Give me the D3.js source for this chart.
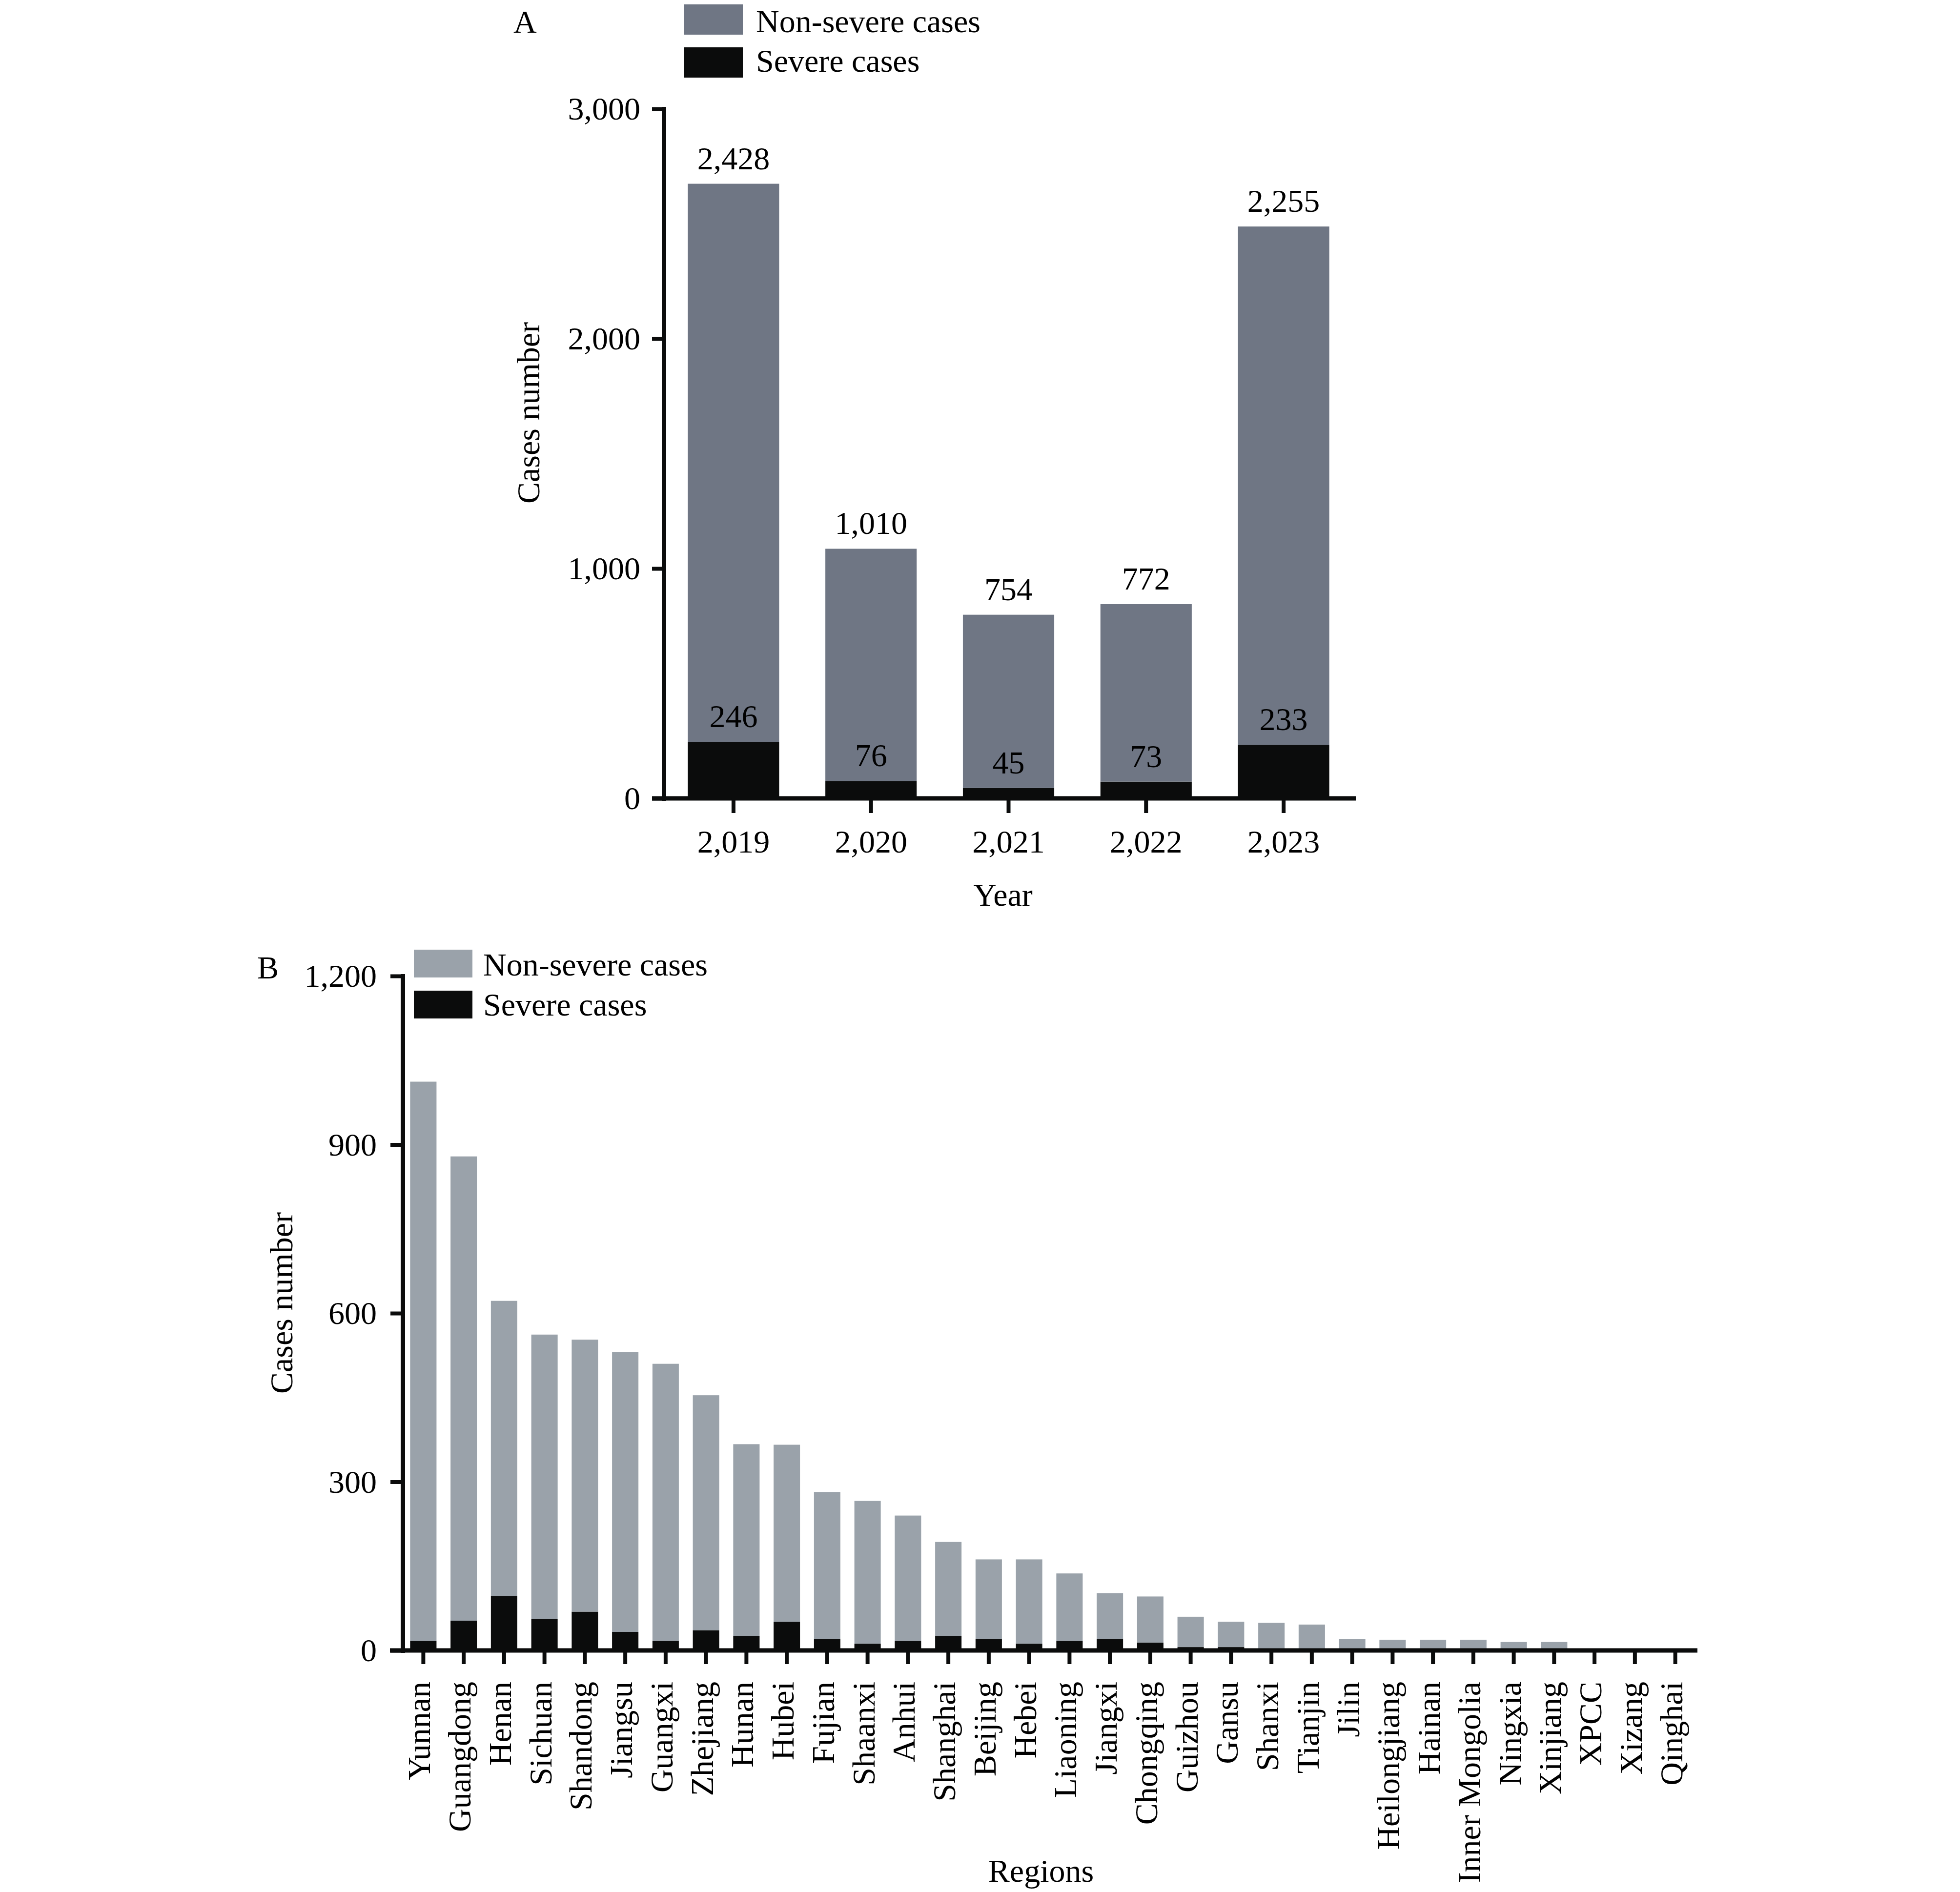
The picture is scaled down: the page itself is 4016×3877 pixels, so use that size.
<!DOCTYPE html>
<html>
<head>
<meta charset="utf-8">
<script src="https://cdn.jsdelivr.net/npm/d3@7"></script>
<style>
  body { margin: 0; background: #fff; }
  svg { display: block; }
  text { font-family: "Liberation Serif", "Times New Roman", serif; fill: #000; }
</style>
</head>
<body>
<svg id="chart"></svg>
<script>
// Panel A: cases by year
const years = [2019, 2020, 2021, 2022, 2023];
const yearSevere = [246, 76, 45, 73, 233];
const yearNonSevere = [2428, 1010, 754, 772, 2255];
const yTicksA = [0, 1000, 2000, 3000];

// Panel B: cases by region
const regions = ["Yunnan", "Guangdong", "Henan", "Sichuan", "Shandong", "Jiangsu", "Guangxi",
  "Zhejiang", "Hunan", "Hubei", "Fujian", "Shaanxi", "Anhui", "Shanghai", "Beijing", "Hebei",
  "Liaoning", "Jiangxi", "Chongqing", "Guizhou", "Gansu", "Shanxi", "Tianjin", "Jilin",
  "Heilongjiang", "Hainan", "Inner Mongolia", "Ningxia", "Xinjiang", "XPCC", "Xizang", "Qinghai"];
const regionSevere = [17, 53, 97, 56, 69, 33, 17, 36, 26, 51, 20, 12, 17, 26, 20, 12,
  17, 20, 14, 6, 6, 1, 3, 0, 0, 0, 0, 0, 0, 0, 0, 0];
const regionNonSevere = [995, 826, 525, 506, 484, 498, 493, 418, 341, 315, 262, 254, 223, 167, 142, 150,
  120, 82, 82, 54, 45, 48, 43, 20, 19, 19, 19, 15, 15, 0, 0, 0];
const yTicksB = [0, 300, 600, 900, 1200];

const legendLabels = ["Non-severe cases", "Severe cases"];

const W = 4016, H = 3877;
const FS = 66;
const AXW = 9;
const black = "#0b0c0c";
const fmt = d3.format(",");

const svg = d3.select("#chart").attr("width", W).attr("height", H);
svg.append("rect").attr("width", W).attr("height", H).attr("fill", "#fff");

function styleAxis(g) {
  g.selectAll("path.domain").attr("stroke", black).attr("stroke-width", AXW).attr("stroke-linecap", "square");
  g.selectAll(".tick line").attr("stroke", black).attr("stroke-width", 8);
  g.selectAll("text").attr("font-family", '"Liberation Serif", "Times New Roman", serif')
    .attr("font-size", FS).attr("fill", "#000");
  g.attr("font-family", null).attr("font-size", null);
}

function legend(x, ys, h, textX, baselines, colors) {
  legendLabels.forEach((lab, i) => {
    svg.append("rect").attr("x", x).attr("y", ys[i]).attr("width", 120).attr("height", h).attr("fill", colors[i]);
    svg.append("text").attr("x", textX).attr("y", baselines[i]).attr("font-size", FS).text(lab);
  });
}

// ---------- Panel A ----------
{
  const grey = "#6f7684";
  const rows = years.map((yr, i) => ({ key: yr, severe: yearSevere[i], nonSevere: yearNonSevere[i] }));
  const stack = d3.stack().keys(["severe", "nonSevere"])(rows);

  const x = d3.scaleBand().domain(years).range([1362, 2771]).paddingInner(0.336).paddingOuter(0.168);
  const y = d3.scaleLinear().domain([0, 3000]).range([1636, 223]);

  const g = svg.append("g");
  stack.forEach((layer, li) => {
    g.selectAll(null).data(layer).join("rect")
      .attr("x", d => x(d.data.key))
      .attr("width", x.bandwidth())
      .attr("y", d => y(d[1]))
      .attr("height", d => y(d[0]) - y(d[1]))
      .attr("fill", li === 0 ? black : grey);
  });
  // value labels sit above each segment
  stack.forEach(layer => {
    g.selectAll(null).data(layer).join("text")
      .attr("x", d => x(d.data.key) + x.bandwidth() / 2)
      .attr("y", d => y(d[1]) - 30)
      .attr("text-anchor", "middle")
      .attr("font-size", FS)
      .text(d => fmt(d[1] - d[0]));
  });

  svg.append("line").attr("x1", 1336).attr("x2", 2778).attr("y1", y(0)).attr("y2", y(0))
    .attr("stroke", black).attr("stroke-width", AXW);

  const yAxis = svg.append("g").attr("transform", "translate(1360,0)")
    .call(d3.axisLeft(y).tickValues(yTicksA).tickFormat(fmt).tickSize(24).tickSizeOuter(0).tickPadding(24));
  styleAxis(yAxis);
  yAxis.selectAll("text").attr("dy", "0.33em");

  const xAxis = svg.append("g").attr("transform", `translate(0,${y(0)})`)
    .call(d3.axisBottom(x).tickFormat(fmt).tickSize(30).tickPadding(34));
  xAxis.select("path.domain").remove();
  styleAxis(xAxis);

  svg.append("text").attr("x", 2055).attr("y", 1856).attr("text-anchor", "middle").attr("font-size", FS).text("Year");
  svg.append("text").attr("transform", "translate(1085,846) rotate(-90)").attr("dy", "0.3em")
    .attr("text-anchor", "middle").attr("font-size", FS).text("Cases number");
  svg.append("text").attr("x", 1052).attr("y", 67).attr("font-size", FS).text("A");

  legend(1402, [9, 97], 62, 1549, [66, 147], [grey, black]);
}

// ---------- Panel B ----------
{
  const grey = "#9aa2aa";
  const rows = regions.map((r, i) => ({ key: r, severe: regionSevere[i], nonSevere: regionNonSevere[i] }));
  const stack = d3.stack().keys(["severe", "nonSevere"])(rows);

  const x = d3.scaleBand().domain(regions).range([826, 3474]).paddingInner(0.347).paddingOuter(0.1735);
  const y = d3.scaleLinear().domain([0, 1200]).range([3382, 2000]);

  const g = svg.append("g");
  stack.forEach((layer, li) => {
    g.selectAll(null).data(layer).join("rect")
      .attr("x", d => x(d.data.key))
      .attr("width", x.bandwidth())
      .attr("y", d => y(d[1]))
      .attr("height", d => y(d[0]) - y(d[1]))
      .attr("fill", li === 0 ? black : grey);
  });

  svg.append("line").attr("x1", 799).attr("x2", 3478).attr("y1", y(0)).attr("y2", y(0))
    .attr("stroke", black).attr("stroke-width", AXW);

  const yAxis = svg.append("g").attr("transform", "translate(825,0)")
    .call(d3.axisLeft(y).tickValues(yTicksB).tickFormat(fmt).tickSize(25).tickSizeOuter(0).tickPadding(28));
  styleAxis(yAxis);
  yAxis.selectAll("text").attr("dy", "0.33em");

  const xAxis = svg.append("g").attr("transform", `translate(0,${y(0)})`)
    .call(d3.axisBottom(x).tickSize(28));
  xAxis.select("path.domain").remove();
  styleAxis(xAxis);
  xAxis.selectAll("text")
    .attr("transform", "rotate(-90)")
    .attr("x", -64).attr("y", 0).attr("dy", "0.21em")
    .attr("text-anchor", "end");

  svg.append("text").attr("x", 2133).attr("y", 3856).attr("text-anchor", "middle").attr("font-size", FS).text("Regions");
  svg.append("text").attr("transform", "translate(579,2670) rotate(-90)").attr("dy", "0.3em")
    .attr("text-anchor", "middle").attr("font-size", FS).text("Cases number");
  svg.append("text").attr("x", 527).attr("y", 2005).attr("font-size", FS).text("B");

  legend(848, [1946, 2030], 57, 990, [1999, 2081], [grey, black]);
}
</script>
</body>
</html>
